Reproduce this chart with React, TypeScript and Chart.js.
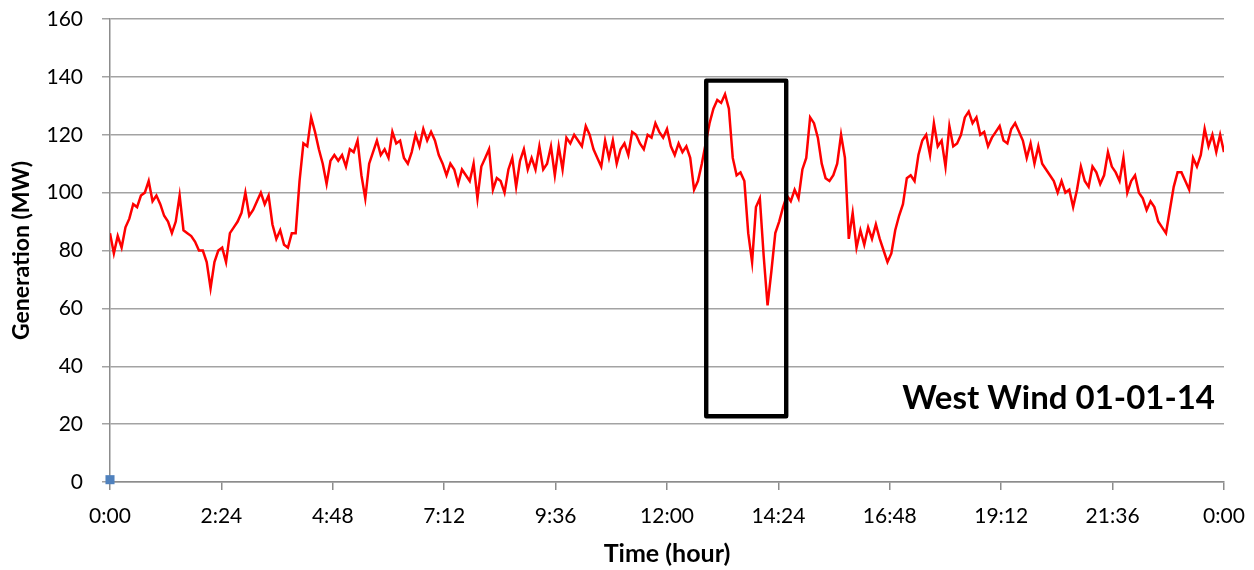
import React, { useEffect, useRef } from "react";
import { Chart, registerables } from "chart.js";

Chart.register(...registerables);

// Generation (MW), one reading every 5 minutes from 0:00 to 24:00
const GENERATION_MW: number[] = [
  86, 79, 85, 81, 88, 91, 96, 95, 99, 100, 104, 97,
  99, 96, 92, 90, 86, 90, 99, 87, 86, 85, 83, 80,
  80, 76, 67, 76, 80, 81, 76, 86, 88, 90, 93, 100,
  92, 94, 97, 100, 96, 99, 89, 84, 87, 82, 81, 86,
  86, 104, 117, 116, 126, 121, 115, 110, 103, 111, 113, 111,
  113, 109, 115, 114, 118, 106, 98, 110, 114, 118, 113, 115,
  112, 121, 117, 118, 112, 110, 114, 120, 116, 122, 118, 121,
  118, 113, 110, 106, 110, 108, 103, 108, 106, 104, 110, 98,
  109, 112, 115, 101, 105, 104, 100, 108, 112, 102, 111, 115,
  108, 112, 108, 116, 108, 110, 116, 106, 116, 108, 119, 117,
  120, 118, 116, 123, 120, 115, 112, 109, 118, 112, 118, 110,
  115, 117, 113, 121, 120, 117, 115, 120, 119, 124, 121, 119,
  122, 116, 113, 117, 114, 116, 112, 101, 104, 110, 117, 124,
  129, 132, 131, 134, 129, 112, 106, 107, 104, 86, 76, 95,
  98, 78, 61, 73, 86, 90, 95, 99, 97, 101, 98, 108,
  112, 126, 124, 119, 110, 105, 104, 106, 110, 120, 112, 84,
  93, 81, 87, 82, 88, 84, 89, 84, 80, 76, 79, 87,
  92, 96, 105, 106, 104, 113, 118, 120, 113, 124, 116, 118,
  109, 123, 116, 117, 120, 126, 128, 124, 126, 120, 121, 116,
  119, 121, 123, 118, 117, 122, 124, 121, 118, 112, 117, 110,
  116, 110, 108, 106, 104, 100, 104, 100, 101, 95, 101, 109,
  104, 102, 109, 107, 103, 106, 114, 109, 107, 104, 112, 100,
  104, 106, 100, 98, 94, 97, 95, 90, 88, 86, 94, 102,
  107, 107, 104, 101, 112, 109, 113, 122, 116, 120, 114, 120,
  114,
];
const SAMPLE_MINUTES = 5;
const TIME_MINUTES: number[] = GENERATION_MW.map((_, i) => i * SAMPLE_MINUTES);

// Second (marker) series: a single point
const MARKER_X: number[] = [0];
const MARKER_Y: number[] = [0.8];

// Axis ranges / ticks
const X_MIN = 0;
const X_MAX = 1440;
const X_STEP = 144;
const Y_MIN = 0;
const Y_MAX = 160;
const Y_STEP = 20;

// Highlight box in data units: [startMinute, endMinute, lowMW, highMW]
const HIGHLIGHT_BOX: number[] = [770.7, 874.1, 22.7, 138.7];

const ANNOTATION_TEXT = "West Wind 01-01-14";
const Y_TITLE = "Generation (MW)";
const X_TITLE = "Time (hour)";

function fmtTime(v: number): string {
  const total = Math.round(v);
  const h = Math.floor(total / 60) % 24;
  const m = total % 60;
  return `${h}:${String(m).padStart(2, "0")}`;
}

const overlayPlugin = {
  id: "overlay",
  afterDatasetsDraw(chart: any) {
    const { ctx, scales, chartArea } = chart;
    const xs = scales.x;
    const ys = scales.y;
    const [x0, x1, y0, y1] = HIGHLIGHT_BOX;
    const left = xs.getPixelForValue(x0);
    const right = xs.getPixelForValue(x1);
    const top = ys.getPixelForValue(y1);
    const bottom = ys.getPixelForValue(y0);
    ctx.save();
    ctx.strokeStyle = "#000000";
    ctx.lineWidth = 4.4;
    ctx.lineJoin = "round";
    ctx.strokeRect(left, top, right - left, bottom - top);

    ctx.fillStyle = "#000000";
    ctx.font = "bold 33px Lato";
    ctx.textAlign = "right";
    ctx.textBaseline = "alphabetic";
    ctx.fillText(ANNOTATION_TEXT, chartArea.right - 9, ys.getPixelForValue(25.2));
    ctx.restore();
  },
};

export default function App() {
  const canvasRef = useRef<HTMLCanvasElement | null>(null);

  useEffect(() => {
    document.body.style.margin = "0";
    const canvas = canvasRef.current;
    if (!canvas) return;

    const lineData = TIME_MINUTES.map((t, i) => ({ x: t, y: GENERATION_MW[i] }));
    const markerData = MARKER_X.map((t, i) => ({ x: t, y: MARKER_Y[i] }));

    const axisColor = "#8c8c8c";
    const gridColor = "#a3a3a3";

    const chart = new Chart(canvas, {
      type: "scatter",
      data: {
        datasets: [
          {
            label: "Generation",
            data: lineData,
            showLine: true,
            borderColor: "#ff0000",
            backgroundColor: "#ff0000",
            borderWidth: 2.5,
            pointRadius: 0,
            tension: 0,
            order: 2,
          },
          {
            label: "Marker",
            data: markerData,
            showLine: false,
            pointStyle: "rect",
            pointRadius: 6.4,
            backgroundColor: "#4f81bd",
            borderColor: "#4f81bd",
            borderWidth: 0,
            clip: false,
            order: 1,
          } as any,
        ],
      },
      options: {
        responsive: false,
        animation: false,
        layout: { autoPadding: false, padding: { top: 19, right: 30, bottom: 0, left: 0 } },
        plugins: {
          legend: { display: false },
          tooltip: { enabled: false },
        },
        scales: {
          x: {
            type: "linear",
            min: X_MIN,
            max: X_MAX,
            afterFit(scale: any) {
              scale.height = 88;
              scale.paddingLeft = 0;
              scale.paddingRight = 0;
            },
            afterBuildTicks(scale: any) {
              const ticks = [];
              for (let v = X_MIN; v <= X_MAX; v += X_STEP) ticks.push({ value: v });
              scale.ticks = ticks;
            },
            ticks: {
              autoSkip: false,
              maxRotation: 0,
              padding: 14,
              color: "#000000",
              font: { family: "Lato", size: 21 },
              callback: (v: any) => fmtTime(Number(v)),
            },
            grid: {
              drawOnChartArea: false,
              drawTicks: true,
              tickLength: 8,
              color: axisColor,
              lineWidth: 1.5,
            },
            border: { display: true, color: axisColor, width: 1.5 },
            title: {
              display: true,
              text: X_TITLE,
              color: "#000000",
              font: { family: "Lato", size: 25, weight: "bold" },
              padding: { top: 2, bottom: 1 },
            },
          },
          y: {
            type: "linear",
            min: Y_MIN,
            max: Y_MAX,
            afterFit(scale: any) {
              scale.width = 110;
              scale.paddingTop = 0;
              scale.paddingBottom = 0;
            },
            ticks: {
              stepSize: Y_STEP,
              padding: 19,
              color: "#000000",
              font: { family: "Lato", size: 21 },
            },
            grid: {
              drawTicks: true,
              tickLength: 8,
              color: gridColor,
              lineWidth: 1.5,
            },
            border: { display: true, color: axisColor, width: 1.5 },
            title: {
              display: true,
              text: Y_TITLE,
              color: "#000000",
              font: { family: "Lato", size: 23, weight: "bold" },
              padding: { top: 8, bottom: 0 },
            },
          },
        },
      },
      plugins: [overlayPlugin],
    });

    return () => {
      chart.destroy();
    };
  }, []);

  return (
    <div style={{ width: 1254, height: 570 }}>
      <canvas ref={canvasRef} width={1254} height={570} />
    </div>
  );
}
